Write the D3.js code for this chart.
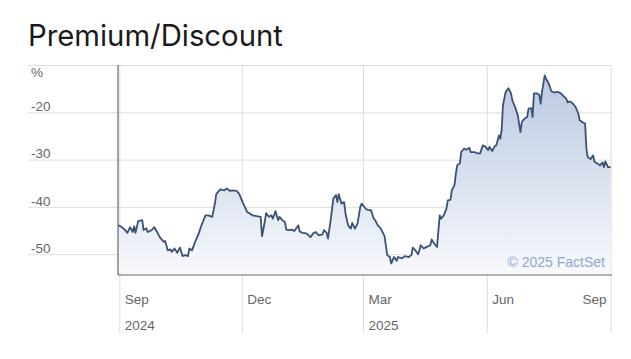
<!DOCTYPE html>
<html><head><meta charset="utf-8">
<script src="https://cdn.jsdelivr.net/npm/d3@7/dist/d3.min.js"></script>
<style>
html,body{margin:0;padding:0;background:#fff;}
svg{display:block;}
</style></head>
<body>
<svg id="chart" width="631" height="359"></svg>
<script>
const title = "Premium/Discount";
const dates = [
"2024-08-31","2024-09-02","2024-09-05","2024-09-07","2024-09-09","2024-09-11","2024-09-12","2024-09-13","2024-09-15","2024-09-18",
"2024-09-19","2024-09-21","2024-09-22","2024-09-25","2024-09-27","2024-09-29","2024-10-01","2024-10-04","2024-10-05","2024-10-07",
"2024-10-09","2024-10-10","2024-10-12","2024-10-14","2024-10-16","2024-10-18","2024-10-20","2024-10-22","2024-10-23","2024-10-25",
"2024-10-27","2024-10-30","2024-11-01","2024-11-02","2024-11-04","2024-11-06","2024-11-09","2024-11-11","2024-11-12","2024-11-15",
"2024-11-18","2024-11-20","2024-11-22","2024-11-24","2024-11-27","2024-11-29","2024-12-02","2024-12-03","2024-12-05","2024-12-07",
"2024-12-09","2024-12-13","2024-12-15","2024-12-16","2024-12-18","2024-12-19","2024-12-21","2024-12-23","2024-12-24","2024-12-26",
"2024-12-28","2024-12-29","2024-12-31","2025-01-02","2025-01-03","2025-01-05","2025-01-07","2025-01-09","2025-01-12","2025-01-13",
"2025-01-15","2025-01-18","2025-01-21","2025-01-23","2025-01-25","2025-01-27","2025-01-30","2025-01-31","2025-02-02","2025-02-03",
"2025-02-05","2025-02-07","2025-02-09","2025-02-10","2025-02-11","2025-02-13","2025-02-15","2025-02-16","2025-02-18","2025-02-20",
"2025-02-21","2025-02-23","2025-02-25","2025-02-27","2025-02-28","2025-03-03","2025-03-05","2025-03-07","2025-03-09","2025-03-10",
"2025-03-12","2025-03-14","2025-03-16","2025-03-17","2025-03-19","2025-03-21","2025-03-22","2025-03-24","2025-03-26","2025-03-27",
"2025-03-30","2025-04-01","2025-04-04","2025-04-06","2025-04-07","2025-04-09","2025-04-11","2025-04-13","2025-04-15","2025-04-17",
"2025-04-20","2025-04-21","2025-04-23","2025-04-24","2025-04-25","2025-04-27","2025-04-28","2025-04-30","2025-05-02","2025-05-03",
"2025-05-05","2025-05-06","2025-05-08","2025-05-09","2025-05-10","2025-05-12","2025-05-13","2025-05-15","2025-05-17","2025-05-19",
"2025-05-20","2025-05-23","2025-05-25","2025-05-27","2025-05-29","2025-05-31","2025-06-02","2025-06-03","2025-06-05","2025-06-07",
"2025-06-08","2025-06-10","2025-06-11","2025-06-12","2025-06-13","2025-06-15","2025-06-17","2025-06-19","2025-06-20","2025-06-22",
"2025-06-24","2025-06-26","2025-06-27","2025-06-29","2025-07-01","2025-07-02","2025-07-04","2025-07-05","2025-07-06","2025-07-08",
"2025-07-10","2025-07-11","2025-07-12","2025-07-14","2025-07-15","2025-07-17","2025-07-19","2025-07-21","2025-07-24","2025-07-26",
"2025-07-28","2025-07-30","2025-07-31","2025-08-02","2025-08-04","2025-08-06","2025-08-08","2025-08-09","2025-08-11","2025-08-13",
"2025-08-14","2025-08-15","2025-08-17","2025-08-19","2025-08-20","2025-08-22","2025-08-24","2025-08-26","2025-08-27","2025-08-28",
"2025-08-30","2025-09-01"];
const values = [
-43.9,-44.1,-44.8,-45.5,-44.3,-45.3,-44.1,-45.5,-43.0,-42.8,
-44.9,-44.5,-45.3,-44.9,-44.3,-45.3,-46.4,-47.4,-47.2,-49.2,
-49.0,-49.5,-48.8,-49.7,-48.6,-50.4,-50.2,-50.4,-48.8,-49.2,
-47.6,-45.6,-43.9,-43.2,-41.8,-41.8,-42.1,-39.3,-37.3,-36.3,
-36.5,-36.1,-36.6,-36.5,-36.6,-37.2,-39.3,-39.9,-41.1,-41.4,
-41.8,-42.0,-42.1,-46.2,-43.2,-41.3,-42.1,-41.8,-42.5,-40.9,
-42.8,-42.1,-42.8,-43.2,-44.8,-44.9,-44.8,-45.1,-43.9,-45.2,
-45.5,-45.6,-46.4,-45.6,-45.3,-46.0,-45.8,-44.9,-45.5,-46.7,
-42.8,-38.2,-37.5,-39.0,-37.3,-39.3,-39.0,-41.4,-43.9,-44.6,
-43.4,-44.6,-43.5,-40.0,-39.3,-40.4,-40.7,-40.7,-42.5,-42.8,
-43.9,-44.5,-45.6,-46.2,-50.2,-50.6,-52.0,-50.6,-51.4,-50.6,
-50.9,-50.4,-50.6,-50.2,-48.6,-49.2,-50.0,-48.1,-48.8,-48.5,
-48.1,-46.9,-47.8,-48.1,-48.5,-41.8,-42.5,-41.8,-40.4,-38.6,
-38.5,-36.5,-35.4,-33.0,-31.2,-30.8,-28.4,-27.7,-27.9,-27.5,
-28.4,-28.4,-28.7,-28.7,-27.0,-27.3,-28.0,-27.3,-28.2,-27.1,
-27.0,-24.9,-25.6,-23.8,-18.5,-15.7,-14.9,-16.0,-17.5,-18.9,
-20.6,-24.2,-22.1,-21.3,-21.0,-19.2,-19.1,-21.0,-16.0,-16.0,
-16.3,-18.2,-15.7,-12.2,-12.9,-13.9,-15.6,-15.8,-15.7,-16.0,
-16.6,-17.1,-17.9,-17.7,-18.2,-18.9,-20.3,-21.7,-22.1,-22.4,
-27.7,-29.5,-29.9,-29.1,-30.5,-30.8,-31.2,-30.6,-31.6,-30.4,
-31.6,-31.6];
const yTickValues = [-10, -20, -30, -40, -50];
const yTickLabels = ["%", "-20", "-30", "-40", "-50"];
const xTickDates = ["2024-09-01", "2024-12-01", "2025-03-01", "2025-06-01", "2025-09-01"];
const xMonthLabels = ["Sep", "Dec", "Mar", "Jun", "Sep"];
const xYearLabels = ["2024", "", "2025", "", ""];
const xDomain = ["2024-08-31", "2025-09-02"];
const yDomain = [-54.4, -10];
const credit = "\u00A9 2025 FactSet";

const parse = d3.timeParse("%Y-%m-%d");
const data = dates.map((d, i) => ({date: parse(d), value: values[i]}));

const L = 118, R = 612, T = 65, B = 275, gridLeft = 28, tickBottom = 333;
const svg = d3.select("#chart");

const x = d3.scaleTime().domain(xDomain.map(parse)).range([L, R]);
const y = d3.scaleLinear().domain(yDomain).range([B, T]);

svg.append("text").attr("x", 28).attr("y", 46)
  .attr("font-family", "Inter, 'Noto Sans', sans-serif").attr("font-size", 29.3)
  .attr("fill", "#1a1a1a").text(title);

// gradient
const defs = svg.append("defs");
const grad = defs.append("linearGradient").attr("id", "fillGrad")
  .attr("gradientUnits", "userSpaceOnUse").attr("x1", 0).attr("x2", 0).attr("y1", T).attr("y2", B);
grad.append("stop").attr("offset", "0%").attr("stop-color", "#b7c6e0");
grad.append("stop").attr("offset", "100%").attr("stop-color", "#f8f9fc");
defs.append("clipPath").attr("id", "plotClip").append("rect")
  .attr("x", L).attr("y", T).attr("width", R - L).attr("height", B - T);

// horizontal gridlines + labels
const yAxis = d3.axisLeft(y).tickValues(yTickValues).tickSize(-(R - gridLeft))
  .tickFormat((d, i) => yTickLabels[i]);
const gy = svg.append("g").attr("transform", `translate(${gridLeft},0)`).call(yAxis);
gy.select(".domain").remove();
gy.selectAll(".tick line").attr("stroke", "#dedede").attr("stroke-width", 1);
gy.selectAll(".tick text")
  .attr("x", 3).attr("text-anchor", "start")
  .attr("dy", (d) => d === -10 ? "0.85em" : "-0.12em")
  .attr("font-family", "'Liberation Sans', Arial, sans-serif").attr("font-size", 13.5)
  .attr("fill", "#666");

// vertical gridlines + labels
const xAxis = d3.axisBottom(x).tickValues(xTickDates.map(parse)).tickSize(tickBottom - T)
  .tickFormat((d, i) => xMonthLabels[i]);
const gx = svg.append("g").attr("transform", `translate(0,${T})`).call(xAxis);
gx.select(".domain").remove();
gx.selectAll(".tick line").attr("stroke", "#dedede").attr("stroke-width", 1);
gx.selectAll(".tick text").remove();
gx.selectAll(".tick").each(function(d, i) {
  const t = d3.select(this);
  const px = x(d);
  const overflow = px + 40 > R;
  const tx = overflow ? (R - px - 6) : 5;
  const anchor = overflow ? "end" : "start";
  t.append("text").attr("x", tx).attr("y", 304 - T).attr("text-anchor", anchor)
    .attr("font-family", "'Liberation Sans', Arial, sans-serif").attr("font-size", 13.5)
    .attr("fill", "#666").text(xMonthLabels[i]);
  if (xYearLabels[i]) {
    t.append("text").attr("x", tx).attr("y", 330 - T).attr("text-anchor", anchor)
      .attr("font-family", "'Liberation Sans', Arial, sans-serif").attr("font-size", 13.5)
      .attr("fill", "#666").text(xYearLabels[i]);
  }
});

// area + line
const plot = svg.append("g").attr("clip-path", "url(#plotClip)");
const area = d3.area().x(d => x(d.date)).y0(B).y1(d => y(d.value));
const line = d3.line().x(d => x(d.date)).y(d => y(d.value));
plot.append("path").datum(data).attr("d", area).attr("fill", "url(#fillGrad)");
plot.append("path").datum(data).attr("d", line).attr("fill", "none")
  .attr("stroke", "#3b5275").attr("stroke-width", 1.8).attr("stroke-linejoin", "round");

// credit
svg.append("text").attr("x", R - 7).attr("y", 267).attr("text-anchor", "end")
  .attr("font-family", "'Liberation Sans', Arial, sans-serif").attr("font-size", 14)
  .attr("fill", "#8fa7d0").text(credit);

// axis lines
svg.append("line").attr("x1", x.range()[0]).attr("x2", x.range()[0]).attr("y1", y.range()[1]).attr("y2", y.range()[0])
  .attr("stroke", "#666").attr("stroke-width", 1.2);
svg.append("line").attr("x1", x.range()[0]).attr("x2", x.range()[1]).attr("y1", y.range()[0]).attr("y2", y.range()[0])
  .attr("stroke", "#666").attr("stroke-width", 1.2);
</script>
</body></html>
